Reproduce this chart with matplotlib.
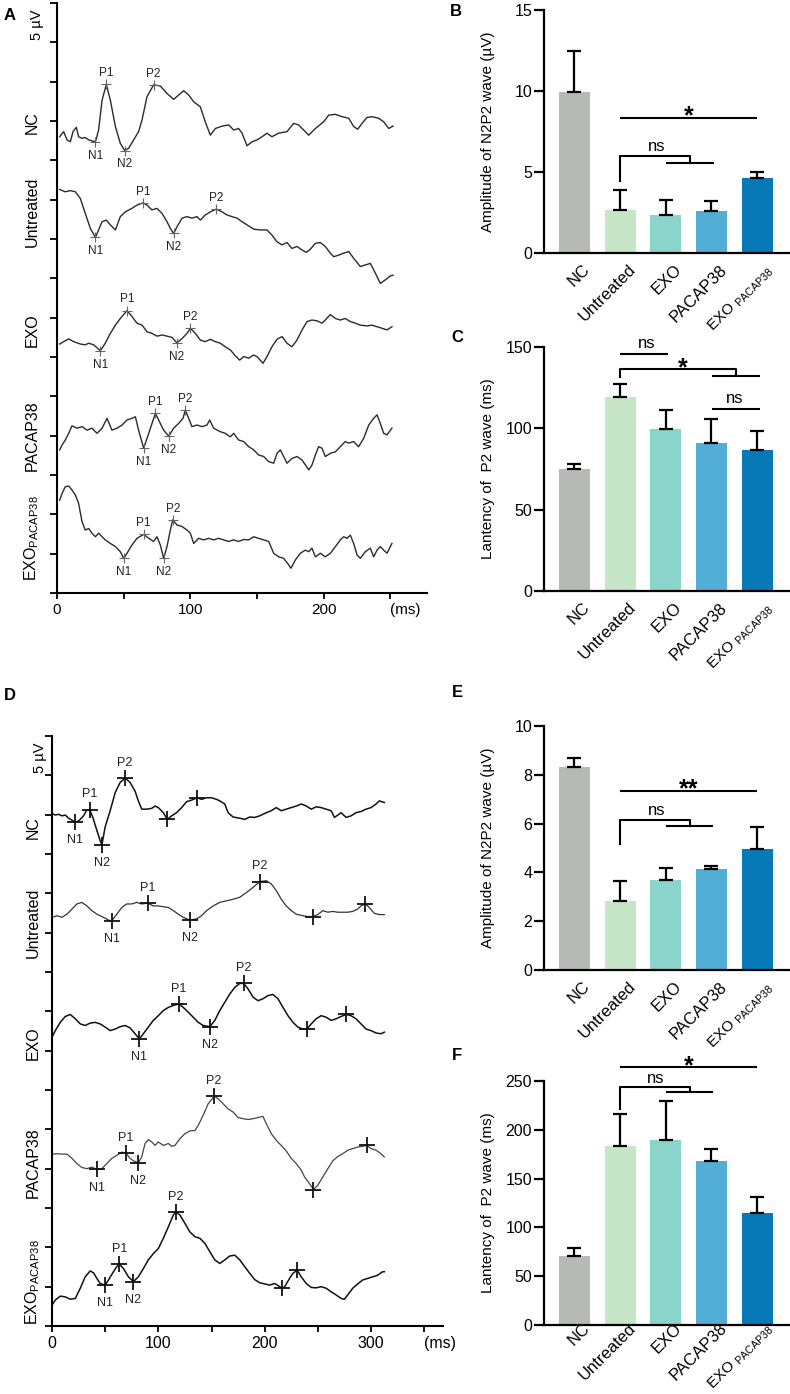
import matplotlib
matplotlib.use('Agg')
import matplotlib.pyplot as plt
from matplotlib.transforms import ScaledTranslation
import numpy as np

plt.rcParams['font.family'] = ['Liberation Sans', 'DejaVu Sans']
plt.rcParams['mathtext.fontset'] = 'custom'
plt.rcParams['mathtext.rm'] = 'Liberation Sans'
plt.rcParams['mathtext.it'] = 'Liberation Sans:italic'
plt.rcParams['mathtext.bf'] = 'Liberation Sans:bold'

# ---------------- data ----------------
groups = ['NC', 'Untreated', 'EXO', 'PACAP38', r'EXO $_{\mathregular{PACAP38}}$']
trace_names = ['NC', 'Untreated', 'EXO', 'PACAP38', r'EXO$_{\mathregular{PACAP38}}$']
bar_colors = ['#b6bab4', '#c6e6c7', '#8ad4cb', '#52aed4', '#0779b6']

# panel B: amplitude of N2P2 (uV), mean and SEM
b_mean = [9.92, 2.67, 2.32, 2.57, 4.66]
b_sem = [2.57, 1.19, 0.97, 0.64, 0.37]
# panel C: latency of P2 (ms)
c_mean = [75.2, 119.3, 99.6, 91.2, 86.5]
c_sem = [3.1, 8.2, 11.9, 14.7, 11.9]
# panel E: amplitude of N2P2 (uV)
e_mean = [8.32, 2.82, 3.68, 4.15, 4.97]
e_sem = [0.37, 0.82, 0.48, 0.13, 0.90]
# panel F: latency of P2 (ms)
f_mean = [71.0, 183.7, 189.5, 168.0, 114.4]
f_sem = [8.2, 32.1, 40.0, 12.0, 17.1]

# panel A traces (x in ms, y in axis tick units)
a_nc_x = [2, 5, 7.5, 10, 12, 14.5, 16.2, 18.8, 21.2, 23.8, 28.8, 31.2, 33.8, 37, 40, 43.8, 47.5, 50.8, 53.8, 57.5,
          61.2, 63.8, 67.5, 72.5, 77.5, 82.5, 87.5, 91.2, 95, 98.8, 102.5, 107.5, 111.2, 115, 118.8, 123.8, 128.8,
          132.5, 136.2, 138.8, 142.5, 146.2, 150, 153.8, 157.5, 161.2, 166.2, 172.5, 177.5, 181.2, 185, 188.8, 193.8,
          200, 203.8, 208.8, 213.8, 218.8, 222.5, 225.5, 228.8, 232.5, 236.2, 241.2, 245, 248.8, 252]
a_nc_y = [11.60, 11.73, 11.52, 11.47, 11.73, 11.84, 11.60, 11.56, 11.58, 11.52, 11.47, 11.77, 12.53, 12.93, 12.53,
          11.86, 11.43, 11.25, 11.31, 11.52, 11.73, 12.03, 12.62, 12.92, 12.89, 12.70, 12.55, 12.66, 12.77, 12.66,
          12.49, 12.36, 11.98, 11.64, 11.81, 11.87, 11.90, 11.77, 11.81, 11.69, 11.37, 11.47, 11.52, 11.60, 11.69,
          11.60, 11.69, 11.73, 11.94, 11.90, 11.77, 11.64, 11.81, 11.98, 12.15, 12.17, 12.11, 12.07, 11.86, 11.79,
          11.94, 12.09, 12.11, 12.07, 11.98, 11.81, 11.87]
a_unt_x = [2, 6.2, 10, 13.8, 17.5, 21.2, 25, 28.8, 31.2, 33.8, 37, 40, 43.8, 47.5, 51.2, 56.2, 60, 64.5, 67.5, 71.2,
           75, 78.8, 82.5, 85, 87.5, 90, 93.8, 97.5, 101.2, 105, 107.5, 111.2, 115, 119.5, 123.8, 127.5, 131.2, 135,
           138.8, 142.5, 147.5, 152.5, 157.5, 161.2, 165, 168.8, 172.5, 176.2, 180, 183.8, 187, 190, 193.8, 197.5,
           201.2, 205, 207.5, 211.2, 215, 218.8, 222.5, 227.5, 231.2, 235, 238.8, 242.5, 246.2, 250, 252]
a_unt_y = [10.26, 10.20, 10.23, 10.20, 10.03, 9.65, 9.27, 9.04, 9.23, 9.44, 9.48, 9.36, 9.23, 9.57, 9.69, 9.78, 9.86,
           9.92, 9.86, 9.74, 9.78, 9.65, 9.44, 9.27, 9.14, 9.31, 9.53, 9.57, 9.53, 9.57, 9.48, 9.61, 9.69, 9.76, 9.69,
           9.61, 9.57, 9.53, 9.44, 9.36, 9.25, 9.23, 9.23, 9.10, 8.93, 8.85, 8.91, 8.76, 8.81, 8.72, 8.66, 8.74, 8.89,
           8.91, 8.81, 8.64, 8.55, 8.59, 8.64, 8.68, 8.51, 8.30, 8.34, 8.38, 8.13, 7.87, 7.96, 8.06, 8.08]
a_exo_x = [2, 5, 8.8, 12.5, 17.5, 21.2, 23.8, 27.5, 32.5, 36.2, 40, 43.8, 47.5, 52.5, 56.2, 60, 63.8, 67.5, 71.2, 75,
           78.8, 82.5, 86.2, 90, 93.8, 97.5, 100, 103.8, 107.5, 111.2, 115, 118.8, 122.5, 126.2, 130, 133.8, 137, 140,
           143.8, 147.5, 150, 154.5, 157.5, 161.2, 165, 168.8, 172.5, 176.2, 180, 183.8, 187.5, 191.2, 195, 198.8,
           201.2, 205, 208.8, 212.5, 216.2, 220, 223.8, 227.5, 232.5, 236.2, 240, 243.8, 247.5, 251.2]
a_exo_y = [6.33, 6.39, 6.46, 6.39, 6.33, 6.31, 6.35, 6.31, 6.16, 6.35, 6.60, 6.81, 6.98, 7.18, 7.03, 6.86, 6.81, 6.64,
           6.60, 6.53, 6.56, 6.53, 6.50, 6.36, 6.47, 6.60, 6.73, 6.60, 6.43, 6.39, 6.45, 6.39, 6.35, 6.26, 6.18, 6.03,
           5.92, 6.01, 5.97, 6.05, 6.01, 5.84, 6.01, 6.26, 6.45, 6.52, 6.35, 6.26, 6.43, 6.69, 6.90, 6.94, 6.92, 6.86,
           6.94, 7.08, 6.98, 6.94, 6.98, 6.90, 6.86, 6.81, 6.79, 6.81, 6.77, 6.73, 6.69, 6.77]
a_pac_x = [2, 3.8, 6.2, 8.8, 11.2, 15, 18.8, 22.5, 26.2, 30, 33.8, 37.5, 41.2, 45, 48.8, 52.5, 56.2, 58.8, 61.2, 65,
           68.8, 73.8, 77.5, 80, 83.8, 87.5, 91.2, 94.5, 96.2, 98.8, 101.2, 105, 108.8, 112.5, 114.5, 117.5, 122.5,
           126.2, 130, 132.5, 136.2, 140, 143.8, 147.5, 151.2, 155, 158.8, 162.5, 165, 167.5, 170, 172.5, 176.2, 180,
           183.8, 188.8, 191.2, 193.8, 196.2, 198.8, 201.2, 205, 208.8, 212.5, 216.2, 218.8, 222.5, 226.2, 230, 233.8,
           237.5, 240, 242.5, 245, 247.5, 251.2]
a_pac_y = [3.64, 3.76, 3.89, 4.06, 4.25, 4.19, 4.23, 4.14, 4.19, 4.06, 4.19, 4.44, 4.14, 4.19, 4.27, 4.40, 4.44, 4.48,
           4.14, 3.68, 4.06, 4.57, 4.31, 4.14, 3.99, 4.19, 4.31, 4.44, 4.65, 4.44, 4.23, 4.27, 4.23, 4.27, 4.40, 4.19,
           4.10, 4.06, 3.97, 4.06, 3.89, 3.85, 3.72, 3.64, 3.51, 3.47, 3.34, 3.30, 3.55, 3.64, 3.47, 3.30, 3.42, 3.47,
           3.38, 3.13, 3.25, 3.51, 3.72, 3.68, 3.47, 3.55, 3.59, 3.72, 3.85, 3.81, 3.85, 3.72, 3.93, 4.27, 4.44, 4.53,
           4.31, 4.06, 4.02, 4.19]
a_ep_x = [2, 3.8, 6.2, 8.8, 11.2, 13.8, 16.2, 18.8, 21.2, 23.8, 26.2, 28.8, 31.2, 33.8, 36.2, 40, 43.8, 47.5, 50, 52.5,
          56.2, 60, 65, 68.8, 72.5, 75, 77.5, 80, 82.5, 85, 86.8, 90, 93.8, 97.5, 100, 102.5, 106.2, 110, 113.8, 117.5,
          121.2, 125, 128.8, 132.5, 136.2, 140, 143.8, 147.5, 151.2, 155, 158.8, 162.5, 166.2, 170, 173, 175.5, 178.8,
          182.5, 186.2, 188.8, 191.2, 193.8, 197.5, 201.2, 205, 208.8, 212.5, 215, 217.5, 220, 222.5, 225, 227.5,
          231.2, 235, 237.5, 240, 242.5, 245, 247.5, 250, 251.2]
a_ep_y = [2.36, 2.53, 2.70, 2.72, 2.62, 2.49, 2.28, 1.81, 1.60, 1.64, 1.52, 1.43, 1.52, 1.43, 1.35, 1.26, 1.18, 1.05,
          0.88, 1.01, 1.22, 1.39, 1.49, 1.39, 1.31, 1.43, 1.22, 0.88, 1.18, 1.60, 1.86, 1.73, 1.69, 1.60, 1.52, 1.26,
          1.39, 1.35, 1.39, 1.35, 1.39, 1.35, 1.31, 1.35, 1.31, 1.36, 1.35, 1.43, 1.39, 1.35, 1.31, 1.01, 0.92, 0.88,
          0.75, 0.63, 0.84, 1.01, 1.09, 1.05, 1.14, 0.92, 1.01, 0.92, 1.01, 1.18, 1.35, 1.43, 1.39, 1.47, 1.26, 0.97,
          0.88, 1.05, 1.14, 0.92, 1.09, 1.18, 1.09, 1.01, 1.18, 1.26]

a_nc_peaks = [('N1', 28.8, 11.47), ('P1', 37, 12.93), ('N2', 50.8, 11.25), ('P2', 72.5, 12.92)]
a_unt_peaks = [('N1', 28.8, 9.04), ('P1', 64.5, 9.92), ('N2', 87.5, 9.14), ('P2', 119.5, 9.76)]
a_exo_peaks = [('N1', 32.5, 6.16), ('P1', 52.5, 7.18), ('N2', 90, 6.36), ('P2', 100, 6.73)]
a_pac_peaks = [('N1', 65, 3.68), ('P1', 73.8, 4.57), ('N2', 83.8, 3.99), ('P2', 96.2, 4.65)]
a_ep_peaks = [('N1', 50, 0.88), ('P1', 65, 1.49), ('N2', 80, 0.88), ('P2', 86.8, 1.86)]
a_name_y = [11.96, 9.69, 6.67, 4.0, 1.4]

# panel D traces
d_nc_x = [0, 3.1, 6.2, 9.4, 12.5, 15.6, 21.9, 25, 29.7, 32.2, 35.3, 38.4, 42.2, 45.3, 46.9, 50, 54.7, 59.4, 64.1,
          68.8, 73.4, 78.1, 81.2, 84.4, 89.1, 93.8, 96.9, 100, 104.7, 108.4, 112.5, 117.2, 121.9, 126.6, 131.2, 136.6,
          140.6, 145.3, 150, 154.7, 157.8, 162.5, 165.6, 170.3, 176.6, 181.2, 185.9, 190.6, 195.3, 201.6, 206.2,
          210.9, 215.6, 220.3, 225, 229.7, 234.4, 239.1, 243.8, 248.4, 253.1, 257.8, 262.5, 265.6, 268.8, 271.9,
          276.6, 281.2, 285.9, 290.6, 295.3, 300, 304.7, 307.8, 312.5]
d_nc_y = [13.03, 12.99, 13.01, 12.97, 12.99, 12.91, 12.81, 12.84, 12.97, 13.10, 13.13, 12.93, 12.60, 12.34, 12.23,
          12.69, 13.10, 13.56, 13.82, 13.93, 13.82, 13.60, 13.35, 13.14, 13.14, 13.16, 13.22, 13.18, 13.05, 12.88,
          12.97, 13.05, 13.18, 13.33, 13.37, 13.43, 13.39, 13.43, 13.43, 13.39, 13.35, 13.27, 13.05, 12.94, 12.91,
          12.88, 12.94, 12.93, 12.97, 13.05, 13.10, 13.18, 13.10, 13.14, 13.18, 13.22, 13.27, 13.22, 13.14, 13.20,
          13.18, 13.14, 13.10, 12.93, 12.99, 13.05, 12.93, 12.97, 13.05, 13.08, 13.14, 13.18, 13.27, 13.35, 13.31]
d_unt_x = [0, 4.7, 9.4, 14.1, 18.8, 23.4, 28.1, 32.8, 37.5, 42.2, 48.4, 53.1, 56.2, 60.9, 65.6, 70.3, 75, 79.7, 84.4,
           90, 95.3, 100, 104.7, 109.4, 114.1, 118.8, 123.4, 129.7, 135.9, 140.6, 145.3, 151.6, 157.8, 164.1, 170.3,
           176.6, 182.8, 189.1, 195.3, 201.6, 206.2, 210.9, 215.6, 220.3, 225, 229.7, 235.9, 240.6, 245.3, 250, 254.7,
           259.4, 264.1, 268.8, 273.4, 278.1, 282.8, 287.5, 290.6, 294.7, 298.4, 303.1, 307.8, 312.5]
d_unt_y = [10.39, 10.43, 10.39, 10.47, 10.60, 10.73, 10.77, 10.68, 10.56, 10.47, 10.39, 10.32, 10.30, 10.47, 10.64,
           10.73, 10.73, 10.77, 10.73, 10.75, 10.68, 10.68, 10.66, 10.64, 10.56, 10.47, 10.39, 10.32, 10.35, 10.43,
           10.56, 10.68, 10.77, 10.81, 10.85, 10.90, 11.02, 11.15, 11.30, 11.32, 11.24, 11.07, 10.85, 10.68, 10.56,
           10.47, 10.43, 10.41, 10.41, 10.46, 10.56, 10.52, 10.54, 10.52, 10.52, 10.52, 10.54, 10.60, 10.68, 10.73,
           10.64, 10.49, 10.46, 10.46]
d_exo_x = [0, 3.1, 7.8, 12.5, 17.2, 21.9, 26.6, 31.2, 35.9, 40.6, 45.3, 50, 54.7, 59.4, 64.1, 68.8, 73.4, 78.1, 82.2,
           85.9, 90.6, 95.3, 100, 104.7, 109.4, 114.1, 119.4, 123.4, 128.1, 132.8, 137.5, 142.2, 148.4, 153.1, 157.8,
           162.5, 167.2, 171.9, 176.6, 180.3, 184.4, 189.1, 193.8, 198.4, 203.1, 207.8, 212.5, 217.2, 221.9, 226.6,
           231.2, 235.9, 239.7, 243.8, 248.4, 253.1, 257.8, 262.5, 267.2, 271.9, 276.6, 281.2, 285.9, 290.6, 295.3,
           300, 304.7, 309.4, 312.5]
d_exo_y = [7.34, 7.51, 7.72, 7.87, 7.92, 7.81, 7.68, 7.64, 7.70, 7.72, 7.68, 7.60, 7.51, 7.55, 7.61, 7.64, 7.58, 7.43,
           7.30, 7.43, 7.60, 7.77, 7.89, 8.02, 8.10, 8.15, 8.19, 8.10, 7.98, 7.85, 7.72, 7.64, 7.61, 7.77, 8.02, 8.23,
           8.44, 8.61, 8.71, 8.71, 8.57, 8.36, 8.27, 8.32, 8.40, 8.43, 8.32, 8.10, 7.89, 7.72, 7.60, 7.55, 7.55, 7.68,
           7.81, 7.89, 7.85, 7.77, 7.81, 7.87, 7.92, 7.89, 7.81, 7.68, 7.55, 7.51, 7.45, 7.43, 7.47]
d_pac_x = [0, 4.7, 9.4, 14.1, 18.8, 23.4, 28.1, 32.8, 37.5, 42.2, 46.9, 51.6, 56.2, 60.9, 65.6, 69.4, 73.4, 76.6,
           81.2, 84.4, 87.5, 90.6, 93.8, 96.9, 100, 104.7, 109.4, 112.5, 115.6, 120.3, 125, 129.7, 134.4, 137.5, 142.2,
           146.9, 152.5, 156.2, 160.9, 165.6, 170.3, 175, 179.7, 184.4, 189.1, 193.8, 198.4, 201.6, 206.2, 210.9,
           215.6, 220.3, 225, 229.7, 234.4, 237.5, 242.2, 245.9, 250, 254.7, 259.4, 264.1, 268.8, 273.4, 278.1, 282.8,
           287.5, 292.2, 296.2, 300, 304.7, 309.4, 312.5]
d_pac_y = [4.37, 4.38, 4.37, 4.37, 4.26, 4.13, 4.03, 4.00, 4.04, 3.98, 4.00, 4.13, 4.26, 4.34, 4.42, 4.40, 4.26, 4.20,
           4.15, 4.30, 4.64, 4.74, 4.68, 4.59, 4.68, 4.59, 4.64, 4.57, 4.59, 4.76, 4.89, 4.96, 4.97, 5.10, 5.36, 5.65,
           5.84, 5.78, 5.65, 5.52, 5.44, 5.30, 5.27, 5.25, 5.27, 5.30, 5.33, 5.14, 4.89, 4.72, 4.59, 4.45, 4.26, 4.13,
           3.96, 3.79, 3.62, 3.47, 3.58, 3.79, 4.00, 4.20, 4.31, 4.38, 4.47, 4.51, 4.55, 4.57, 4.59, 4.51, 4.47, 4.38,
           4.30]
d_ep_x = [0, 3.1, 7.8, 12.5, 17.2, 21.9, 26.6, 31.2, 35.9, 39.1, 42.2, 45.3, 50, 53.1, 57.8, 60.9, 63.4, 67.2, 71.9,
          76.6, 81.2, 85.9, 90.6, 95.3, 100, 104.7, 109.4, 114.1, 116.6, 120.3, 125, 129.7, 134.4, 139.1, 143.8, 148.4,
          153.1, 157.8, 162.5, 167.2, 171.9, 176.6, 181.2, 185.9, 190.6, 195.3, 200, 204.7, 209.4, 216.6, 218.8,
          223.4, 226.6, 230.6, 234.4, 239.1, 243.8, 248.4, 253.1, 257.8, 262.5, 267.2, 271.9, 275, 278.1, 282.8,
          287.5, 292.2, 296.9, 301.6, 306.2, 310.9, 312.5]
d_ep_y = [0.53, 0.66, 0.76, 0.74, 0.68, 0.70, 0.96, 1.25, 1.40, 1.35, 1.21, 1.08, 1.04, 1.17, 1.38, 1.51, 1.57, 1.46,
          1.25, 1.13, 1.25, 1.46, 1.68, 1.84, 1.97, 2.23, 2.52, 2.82, 2.90, 2.82, 2.61, 2.39, 2.27, 2.23, 2.10, 1.89,
          1.68, 1.59, 1.68, 1.78, 1.80, 1.68, 1.51, 1.34, 1.18, 1.10, 1.07, 1.04, 1.08, 0.96, 1.00, 1.21, 1.34, 1.42,
          1.25, 1.08, 0.98, 0.97, 1.00, 0.96, 0.87, 0.79, 0.70, 0.68, 0.79, 0.96, 1.07, 1.17, 1.21, 1.25, 1.29, 1.38,
          1.38]

d_nc_peaks = [('N1', 21.9, 12.81), ('P1', 35.3, 13.13), ('N2', 46.9, 12.23), ('P2', 68.8, 13.93),
              ('', 108.4, 12.88), ('', 136.6, 13.43)]
d_unt_peaks = [('N1', 56.2, 10.30), ('P1', 90, 10.75), ('N2', 129.7, 10.32), ('P2', 195.3, 11.30),
               ('', 245.3, 10.41), ('', 294.7, 10.73)]
d_exo_peaks = [('N1', 82.2, 7.30), ('P1', 119.4, 8.19), ('N2', 148.4, 7.61), ('P2', 180.3, 8.71),
               ('', 239.7, 7.55), ('', 276.6, 7.92)]
d_pac_peaks = [('N1', 42.2, 3.98), ('P1', 69.4, 4.40), ('N2', 81.2, 4.15), ('P2', 152.5, 5.84),
               ('', 245.9, 3.47), ('', 296.2, 4.59)]
d_ep_peaks = [('N1', 50, 1.04), ('P1', 63.4, 1.57), ('N2', 76.6, 1.13), ('P2', 116.6, 2.90),
              ('', 216.6, 0.96), ('', 230.6, 1.42)]
d_name_y = [12.66, 10.25, 7.2, 4.16, 1.12]

# ---------------- layout ----------------
W, H = 790, 1394
fig = plt.figure(figsize=(W / 100, H / 100), dpi=100)


def rect(l, t, r, b):
    # pixel box -> figure fraction
    return [l / W, 1 - b / H, (r - l) / W, (b - t) / H]


def trace_panel(box, xmax, xticks, traces, peaks, name_y, name_dx, scale_dx,
                colors, lws, mk, tick_fs):
    ax = fig.add_axes(rect(*box))
    for (x, y), pk, c, lw in zip(traces, peaks, colors, lws):
        ax.plot(x, y, color=c, lw=lw, zorder=2)
        for lab, px, py in pk:
            ax.plot(px, py, marker='+', ms=mk['ms'], mew=mk['mew'], color=mk['color'], zorder=3)
            if lab:
                dy = mk['up'] if lab[0] == 'P' else mk['down']
                ax.annotate(lab, (px, py), xytext=(0, dy), textcoords='offset points',
                            ha='center', va='center', fontsize=mk['fs'], color='#222222')
    ax.set_xlim(0, xmax)
    ax.set_ylim(0, 15)
    for s in ['top', 'right']:
        ax.spines[s].set_visible(False)
    for s in ['left', 'bottom']:
        ax.spines[s].set_linewidth(1.5)
    ax.set_yticks(range(16))
    ax.set_yticklabels([])
    labels = [str(t) if t % 100 == 0 else '' for t in xticks]
    labels[-1] = '(ms)'
    ax.set_xticks(xticks)
    ax.set_xticklabels(labels, fontsize=tick_fs)
    ax.get_xticklabels()[-1].set_ha('left')
    ax.tick_params(axis='y', length=5, width=1.3)
    ax.tick_params(axis='x', length=4, width=1.3, pad=3)
    tr = ax.get_yaxis_transform()
    for nm, y in zip(trace_names, name_y):
        ax.text(name_dx, y, nm, transform=tr, rotation=90, ha='center', va='center', fontsize=11.5)
    ax.text(scale_dx, 14.45, '5 µV', transform=tr, rotation=90, ha='center', va='center', fontsize=10.5)
    return ax


def bar_panel(box, means, sems, ymax, yticks, ylabel, lab_pad):
    ax = fig.add_axes(rect(*box))
    x = np.arange(len(means))
    ax.bar(x, means, width=0.68, color=bar_colors, zorder=2)
    ax.errorbar(x, means, yerr=[np.zeros(len(sems)), sems], fmt='none', ecolor='black',
                elinewidth=1.6, capsize=4.7, capthick=1.6, zorder=3)
    ax.set_xlim(-0.667, 4.72)
    ax.set_ylim(0, ymax)
    for s in ['top', 'right']:
        ax.spines[s].set_visible(False)
    for s in ['left', 'bottom']:
        ax.spines[s].set_linewidth(1.6)
    ax.set_yticks(yticks)
    ax.tick_params(axis='y', length=7.5, width=1.6, pad=1, labelsize=11.5)
    ax.set_xticks(x)
    ax.set_xticklabels(groups, rotation=45, ha='right', va='top', rotation_mode='anchor', fontsize=12)
    ax.get_xticklabels()[-1].set_fontsize(11)
    ax.tick_params(axis='x', length=0, pad=lab_pad)
    off = ScaledTranslation(0.08, 0, fig.dpi_scale_trans)
    for lab in ax.get_xticklabels():
        lab.set_transform(lab.get_transform() + off)
    ax.set_ylabel(ylabel, fontsize=11)
    ax.yaxis.set_label_coords(-0.199, 0.5)
    return ax


def hline(ax, x0, x1, y):
    ax.plot([x0, x1], [y, y], color='black', lw=1.5, clip_on=False, solid_capstyle='butt')


def bracket(ax, x0, y0, y1, xm, ym, xa, xb):
    ax.plot([x0, x0, xm, xm], [y0, y1, y1, ym], color='black', lw=1.5, clip_on=False)
    hline(ax, xa, xb, ym)


def ns(ax, x, y):
    ax.text(x, y, 'ns', ha='center', va='center', fontsize=12, clip_on=False)


def stars(ax, x, y, s):
    ax.annotate(s, (x, y), xytext=(0, -4), textcoords='offset points', ha='center', va='baseline',
                fontsize=18, fontweight='bold', annotation_clip=False)


# panel A
trace_panel((57, 3, 427, 593), 277.5, list(range(0, 251, 50)),
            [(a_nc_x, a_nc_y), (a_unt_x, a_unt_y), (a_exo_x, a_exo_y), (a_pac_x, a_pac_y), (a_ep_x, a_ep_y)],
            [a_nc_peaks, a_unt_peaks, a_exo_peaks, a_pac_peaks, a_ep_peaks],
            a_name_y, -0.068, -0.054,
            ['#2b2b2b'] * 5, [1.0] * 5,
            dict(ms=7, mew=0.8, color='#666666', up=8, down=-10, fs=8.5), 11)

# panel D
trace_panel((52, 736, 443, 1326), 367.7, list(range(0, 351, 50)),
            [(d_nc_x, d_nc_y), (d_unt_x, d_unt_y), (d_exo_x, d_exo_y), (d_pac_x, d_pac_y), (d_ep_x, d_ep_y)],
            [d_nc_peaks, d_unt_peaks, d_exo_peaks, d_pac_peaks, d_ep_peaks],
            d_name_y, -0.049, -0.031,
            ['#111111', '#333333', '#111111', '#444444', '#111111'], [1.1, 0.9, 1.1, 0.9, 1.1],
            dict(ms=11, mew=1.3, color='#111111', up=11, down=-13, fs=9), 11.5)

# panel B
ax = bar_panel((544, 10, 790, 253), b_mean, b_sem, 15, [0, 5, 10, 15], 'Amplitude of N2P2 wave (µV)', 6.5)
hline(ax, 1.0, 4.0, 8.32)
stars(ax, 2.5, 8.32, '*')
bracket(ax, 1.0, 4.42, 5.96, 2.54, 5.55, 2.0, 3.06)
ns(ax, 1.81, 6.57)

# panel C
ax = bar_panel((544, 347, 790, 591), c_mean, c_sem, 150, [0, 50, 100, 150], 'Lantency of  P2 wave (ms)', 6.5)
hline(ax, 1.0, 2.04, 145.9)
ns(ax, 1.58, 152)
bracket(ax, 1.0, 131.6, 136.3, 3.53, 132, 3.02, 4.07)
stars(ax, 2.38, 136.3, '*')
hline(ax, 3.02, 4.07, 111.7)
ns(ax, 3.51, 118.2)

# panel E
ax = bar_panel((544, 726, 790, 970), e_mean, e_sem, 10, [0, 2, 4, 6, 8, 10], 'Amplitude of N2P2 wave (µV)', 6.5)
hline(ax, 1.0, 4.0, 7.33)
stars(ax, 2.5, 7.33, '**')
bracket(ax, 1.0, 5.18, 6.14, 2.54, 5.91, 2.0, 3.03)
ns(ax, 1.81, 6.55)

# panel F
ax = bar_panel((544, 1081, 790, 1325), f_mean, f_sem, 250, [0, 50, 100, 150, 200, 250],
               'Lantency of  P2 wave (ms)', -3)
hline(ax, 1.0, 4.0, 264)
stars(ax, 2.5, 264, '*')
bracket(ax, 1.0, 221, 244.2, 2.54, 238.4, 2.0, 3.04)
ns(ax, 1.78, 252.7)

# panel letters
for letter, px, py in [('A', 10, 15), ('B', 456, 12), ('C', 457, 337),
                       ('D', 10, 695), ('E', 457, 693), ('F', 457, 1055)]:
    fig.text(px / W, 1 - py / H, letter, ha='center', va='center', fontsize=12, fontweight='bold')

fig.savefig('out.png', dpi=100)
